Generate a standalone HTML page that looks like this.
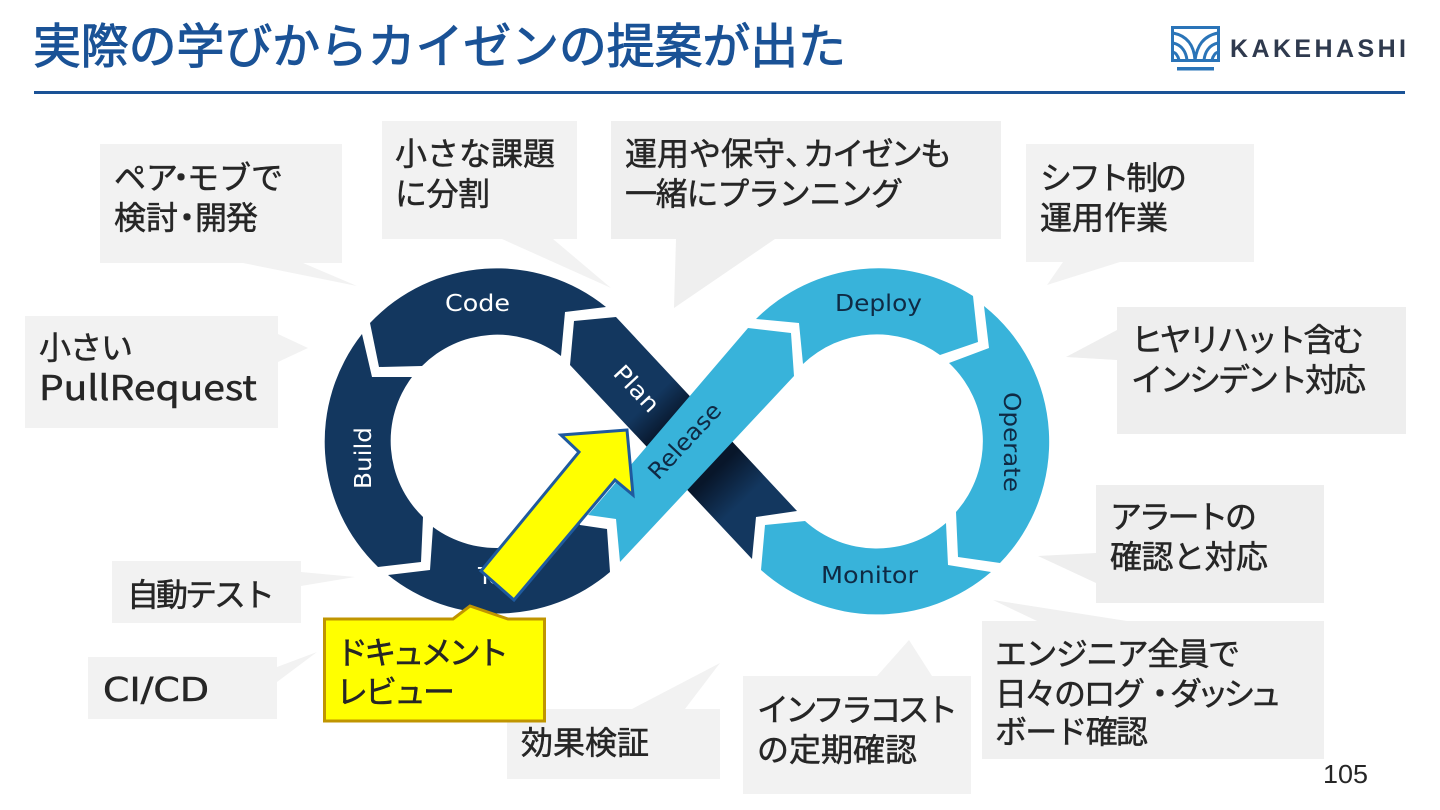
<!DOCTYPE html>
<html lang="ja"><head><meta charset="utf-8"><title>実際の学びからカイゼンの提案が出た</title>
<style>
html,body{margin:0;padding:0;background:#fff;width:1440px;height:810px;overflow:hidden}
svg{display:block}
.j{font-family:"Liberation Sans","Noto Sans CJK JP",sans-serif;font-size:32px;fill:#262626;stroke:#262626;stroke-width:.5px}
.l{font-family:"DejaVu Sans","Liberation Sans",sans-serif;font-size:23px}
</style></head><body>
<svg width="1440" height="810" viewBox="0 0 1440 810" xmlns="http://www.w3.org/2000/svg">
<defs>
<linearGradient id="g" gradientUnits="userSpaceOnUse" x1="645" y1="395" x2="750" y2="505">
<stop offset=".05" stop-color="#13375f"/><stop offset=".27" stop-color="#08162a"/><stop offset=".68" stop-color="#08162a"/><stop offset=".95" stop-color="#13375f"/>
</linearGradient>
</defs>
<text x="33" y="63" textLength="813" style="font-family:'Liberation Sans','Noto Sans CJK JP',sans-serif;font-size:48px;fill:#1a5296;stroke:#1a5296;stroke-width:1px">実際の学びからカイゼンの提案が出た</text>
<rect x="34" y="91" width="1371" height="3" fill="#1a5296"/>
<!-- logo -->
<g fill="none" stroke="#2a74b8" stroke-width="3">
<rect x="1172.500" y="27.500" width="46" height="33"/>
<path d="M1173,33 C1188,36 1194,46 1195,60 M1218,33 C1203,36 1197,46 1195,60 M1173,43 C1182,45 1186,52 1187,60 M1218,43 C1209,45 1205,52 1204,60 M1173,52 C1176,53 1178,56 1179,60 M1218,52 C1215,53 1213,56 1212,60"/>
</g>
<rect x="1177" y="67" width="37" height="3.500" fill="#2a74b8"/>
<text x="1230" y="57" textLength="176" style="font-family:'Liberation Sans',sans-serif;font-size:25px;font-weight:bold;fill:#2f3a4e">KAKEHASHI</text>
<!-- callouts -->
<g fill="#f2f2f2">
<path d="M100,144H342V263H303L357,286L243,263H100Z"/>
<path d="M382,121H577V239H553L611,288L502,239H382Z"/>
<path fill="#efefef" d="M611,121H1001V239H775L674,308L676,239H611Z"/>
<path d="M1026,144H1254V262H1120L1047,285L1063,262H1026Z"/>
<path fill="#eee" d="M1117,307H1406V434H1117V360L1066,357L1117,330Z"/>
<path fill="#eee" d="M1096,485H1324V603H1096V583L1038,556L1096,553Z"/>
<path fill="#f0f0f0" d="M982,621H1037L993,600L1127,621H1324V759H982Z"/>
<path d="M743,676H877L909,640L932,676H971V794H743Z"/>
<path d="M507,709H632L720,663L685,709H720V779H507Z"/>
<path d="M88,657H277V667L317,652L277,682V719H88Z"/>
<path d="M112,561H301V572L355,577L301,586V623H112Z"/>
<path d="M25,316H278V334L308,348L278,362V428H25Z"/>
</g>
<!-- left ring -->
<g fill="#13375f">
<path d="M370,323A174,174 0 0 1 606,307L565,312L561,356A106,106 0 0 0 422,366L379,367Z"/>
<path d="M362,334L372,377L412,377A106,106 0 0 0 423,517L421,562L378,567A174,174 0 0 1 362,334Z"/>
<path d="M433,527A106,106 0 0 0 575,513L580,525L607,529L610,572A174,174 0 0 1 388,575L430,570Z"/>
<path d="M574,321L616,317L797,511L756,517L752,559L570,365Z" fill="url(#g)"/>
</g>
<!-- right ring -->
<g fill="#38b3da">
<path d="M748,328L791,333L794,376L620,562L616,519L588,515Z"/>
<path d="M756,319A174,174 0 0 1 973,296L978,342L940,355A107,107 0 0 0 803,364L799,323Z"/>
<path d="M984,306A174,174 0 0 1 1000,563L958,557L956,512A107,107 0 0 0 949,363L989,348Z"/>
<path d="M765,525L805,521A107,107 0 0 0 946,523L948,565L991,572A174,174 0 0 1 761,570Z"/>
</g>
<g class="l" fill="#fff">
<text x="445" y="311" textLength="65" lengthAdjust="spacingAndGlyphs">Code</text>
<text transform="translate(371,489) rotate(-90)" textLength="62" lengthAdjust="spacingAndGlyphs">Build</text>
<text transform="translate(612,374) rotate(47)" textLength="55" lengthAdjust="spacingAndGlyphs">Plan</text>
<text x="478" y="584">Test</text>
</g>
<g class="l" fill="#0f2a44">
<text x="835" y="311" textLength="87" lengthAdjust="spacingAndGlyphs">Deploy</text>
<text transform="translate(1004,392) rotate(90)" textLength="100" lengthAdjust="spacingAndGlyphs">Operate</text>
<text x="821" y="583" textLength="97" lengthAdjust="spacingAndGlyphs">Monitor</text>
<text transform="translate(658,481) rotate(-47)" textLength="95" lengthAdjust="spacingAndGlyphs">Release</text>
</g>
<!-- yellow arrow -->
<path d="M627,430L561,435L579,452L481,571L514,600L615,480L633,495Z" fill="#ff0" stroke="#1f5a9e" stroke-width="3"/>
<!-- yellow callout -->
<path d="M324.500,619H453L470,606L508,619H544.500V721H324.500Z" fill="#ff0" stroke="#c09500" stroke-width="3"/>
<!-- text -->
<g class="j">
<text y="189"><tspan x="114">ペア</tspan><tspan x="165">・</tspan><tspan x="187">モブで</tspan></text>
<text y="229"><tspan x="114">検討</tspan><tspan x="171">・</tspan><tspan x="195" textLength="63">開発</tspan></text>
<text x="395" y="165" textLength="160">小さな課題</text><text x="395" y="205" textLength="95">に分割</text>
<text y="165"><tspan x="625">運用や保守</tspan><tspan x="785">、</tspan><tspan x="803" textLength="149">カイゼンも</tspan></text>
<text x="625" y="205" textLength="278">一緒にプランニング</text>
<text x="1040" y="189" textLength="147">シフト制の</text><text x="1040" y="229" textLength="128">運用作業</text>
<text x="1131" y="351" textLength="233">ヒヤリハット含む</text><text x="1131" y="391" textLength="235">インシデント対応</text>
<text x="1110" y="528" textLength="147">アラートの</text><text x="1110" y="568" textLength="158">確認と対応</text>
<text x="995" y="665" textLength="245">エンジニア全員で</text>
<text y="705"><tspan x="995" textLength="150">日々のログ</tspan><tspan x="1144">・</tspan><tspan x="1170" textLength="112">ダッシュ</tspan></text>
<text x="995" y="743" textLength="153">ボード確認</text>
<text x="757" y="721" textLength="201">インフラコスト</text><text x="757" y="761" textLength="160">の定期確認</text>
<text x="521" y="754" textLength="128">効果検証</text>
<text x="103" y="701" textLength="106" lengthAdjust="spacingAndGlyphs" style="font-family:'DejaVu Sans',sans-serif;font-size:33px">CI/CD</text>
<text x="127" y="606" textLength="148">自動テスト</text>
<text x="39" y="359" textLength="94">小さい</text>
<text x="39" y="400" textLength="218" lengthAdjust="spacingAndGlyphs" style="font-family:'Noto Sans CJK JP',sans-serif;font-size:34px">PullRequest</text>
<text x="336" y="664" textLength="173">ドキュメント</text><text x="336" y="703" textLength="119">レビュー</text>
</g>
<text x="1323" y="783" textLength="45" lengthAdjust="spacingAndGlyphs" style="font-family:'Liberation Sans',sans-serif;font-size:26px;fill:#262626">105</text>
</svg>
</body></html>
